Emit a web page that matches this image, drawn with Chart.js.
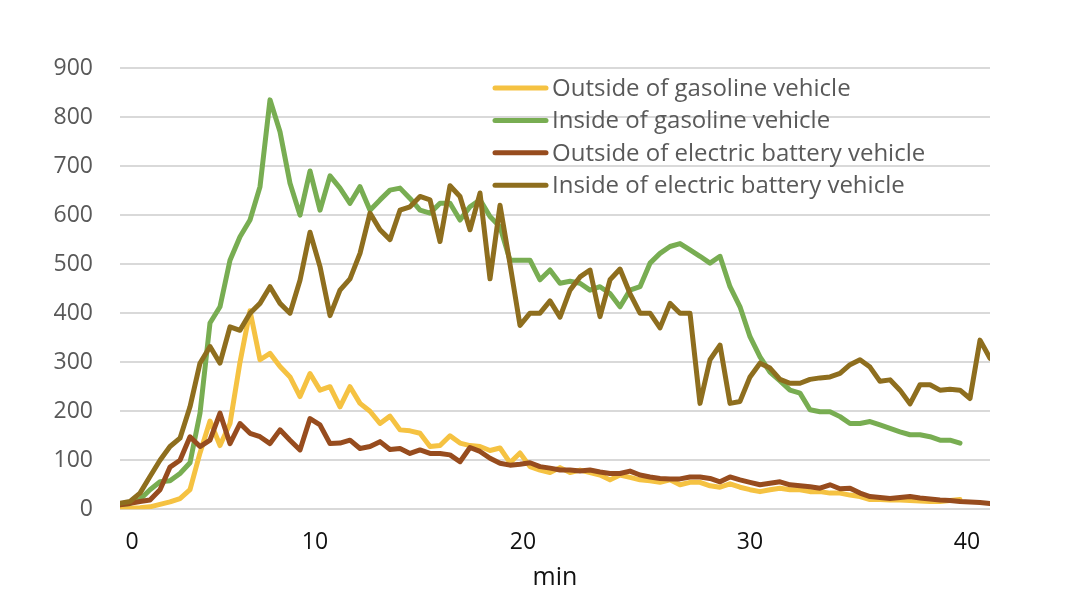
<!DOCTYPE html>
<html>
<head>
<meta charset="utf-8">
<title>Concentration inside / outside vehicles</title>
<script src="https://cdn.jsdelivr.net/npm/chart.js@4.4.1/dist/chart.umd.min.js"></script>
<style>
  body { margin: 0; background: #fff; }
  #wrap { width: 1072px; height: 604px; }
</style>
</head>
<body>
<div id="wrap"><canvas id="chart" width="1072" height="604"></canvas></div>
<script>
// one value per sample
const outsideGas = [
  0, 2, 3, 5, 10, 15, 22, 40, 115, 180,
  130, 175, 300, 405, 305, 318, 291, 270, 230, 277,
  243, 250, 209, 250, 216, 200, 175, 190, 162, 160,
  155, 128, 130, 150, 135, 130, 128, 120, 125, 95,
  115, 87, 80, 75, 85, 75, 80, 75, 70, 60,
  70, 65, 60, 58, 55, 60, 50, 55, 55, 48,
  45, 52, 45, 40, 36, 40, 43, 40, 40, 36,
  36, 33, 33, 29, 26, 20, 20, 19, 19, 18,
  17, 16, 16, 18, 20, null, null, null
];
const insideGas = [
  10, 12, 20, 40, 56, 58, 73, 95, 196, 380,
  413, 508, 556, 590, 658, 835, 770, 665, 600, 690,
  610, 680, 655, 624, 658, 610, 631, 651, 655, 634,
  610, 604, 624, 624, 590, 617, 631, 597, 576, 508,
  508, 508, 468, 488, 461, 465, 461, 447, 454, 440,
  413, 447, 454, 502, 522, 536, 542, 529, 516, 502,
  516, 454, 413, 352, 311, 280, 262, 243, 237, 203,
  199, 199, 189, 175, 175, 179, 172, 165, 158, 152,
  152, 148, 141, 141, 135, null, null, null
];
const outsideEv = [
  9, 12, 16, 19, 40, 86, 100, 148, 128, 141,
  196, 134, 175, 155, 148, 134, 162, 141, 121, 185,
  172, 134, 135, 141, 124, 128, 138, 122, 124, 114,
  121, 114, 114, 111, 97, 126, 118, 104, 94, 90,
  92, 95, 87, 84, 80, 80, 78, 80, 76, 73,
  73, 78, 70, 66, 63, 62, 62, 66, 66, 63,
  56, 66, 60, 55, 50, 53, 56, 50, 48, 46,
  43, 50, 42, 43, 33, 26, 24, 22, 24, 26,
  23, 21, 19, 18, 16, 15, 14, 12
];
const insideEv = [
  12, 16, 33, 67, 100, 128, 145, 209, 298, 332,
  298, 372, 365, 400, 420, 454, 420, 400, 467, 565,
  495, 395, 447, 470, 522, 604, 570, 550, 610, 617,
  638, 631, 546, 660, 638, 570, 645, 470, 620, 500,
  375, 400, 400, 425, 392, 447, 474, 488, 393, 468,
  490, 440, 400, 400, 370, 420, 400, 400, 216, 305,
  335, 216, 220, 270, 298, 288, 265, 257, 257, 265,
  268, 270, 277, 295, 305, 290, 261, 264, 243, 215,
  254, 254, 243, 245, 243, 226, 345, 308
];

const seriesNames = [
  'Outside of gasoline vehicle',
  'Inside of gasoline vehicle',
  'Outside of electric battery vehicle',
  'Inside of electric battery vehicle'
];
const seriesColors = ['#F5C242', '#78AD52', '#974C1E', '#8E6E1E'];

// x tick labels sit at these sample positions
const xTickAt = [1.2, 19.5, 40.3, 63, 84.7];
const xTickText = ['0', '10', '20', '30', '40'];

const sampleIndex = insideEv.map((v, i) => i);

const FONT = '"Open Sans", "DejaVu Sans", sans-serif';

// legend drawn inside the plot, like the original
const insideLegend = {
  id: 'insideLegend',
  afterDatasetsDraw(chart) {
    const ctx = chart.ctx;
    ctx.save();
    ctx.font = '24px ' + FONT;
    ctx.textBaseline = 'middle';
    ctx.textAlign = 'left';
    chart.data.datasets.forEach((ds, i) => {
      const y = 88 + i * 32.4;
      ctx.strokeStyle = ds.borderColor;
      ctx.lineWidth = 5;
      ctx.lineCap = 'round';
      ctx.beginPath();
      ctx.moveTo(495, y);
      ctx.lineTo(546, y);
      ctx.stroke();
      ctx.fillStyle = '#595959';
      ctx.fillText(ds.label, 552, y + 1);
    });
    ctx.restore();
  }
};

const makeSet = (idx, values, order) => ({
  label: seriesNames[idx],
  data: values,
  borderColor: seriesColors[idx],
  backgroundColor: seriesColors[idx],
  borderWidth: 5,
  borderJoinStyle: 'round',
  borderCapStyle: 'round',
  pointRadius: 0,
  tension: 0,
  spanGaps: false,
  order: order
});

new Chart(document.getElementById('chart'), {
  type: 'line',
  data: {
    labels: sampleIndex,
    datasets: [
      makeSet(0, outsideGas, 3),
      makeSet(1, insideGas, 2),
      makeSet(2, outsideEv, 1),
      makeSet(3, insideEv, 0)
    ]
  },
  options: {
    responsive: false,
    animation: false,
    layout: { padding: { left: 0, right: 82, top: 68, bottom: 0 } },
    scales: {
      x: {
        type: 'linear',
        min: 0,
        max: sampleIndex.length - 1,
        grid: { display: false, drawTicks: false },
        border: { display: false },
        afterBuildTicks: (scale) => {
          scale.ticks = xTickAt.map((v) => ({ value: v }));
        },
        afterFit: (scale) => { scale.height = 94.7; },
        ticks: {
          autoSkip: false,
          maxRotation: 0,
          padding: 19,
          color: '#111111',
          font: { family: FONT, size: 23 },
          callback: (value, index) => xTickText[index]
        },
        title: {
          display: true,
          text: 'min',
          color: '#111111',
          font: { family: FONT, size: 25 },
          padding: { top: 0, bottom: 11 }
        }
      },
      y: {
        min: 0,
        max: 900,
        grid: { color: '#D9D9D9', lineWidth: 2, drawTicks: false },
        border: { display: false },
        afterFit: (scale) => { scale.width = 120; },
        ticks: {
          stepSize: 100,
          padding: 27,
          color: '#595959',
          font: { family: FONT, size: 23 }
        }
      }
    },
    plugins: {
      legend: { display: false },
      tooltip: { enabled: false }
    }
  },
  plugins: [insideLegend]
});
</script>
</body>
</html>
